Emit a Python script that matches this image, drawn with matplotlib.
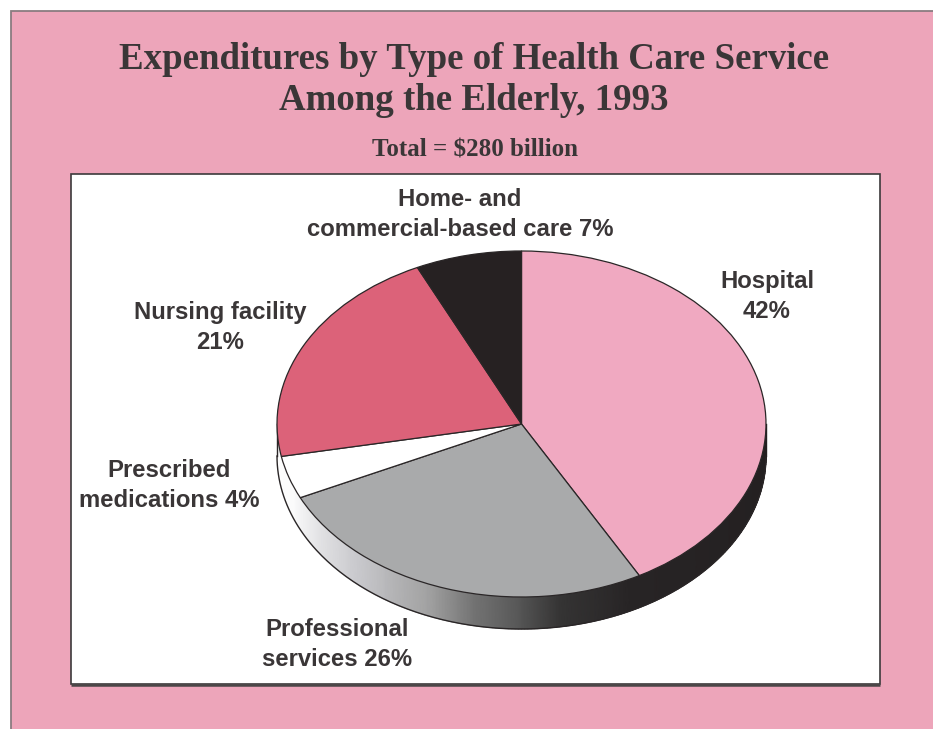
import numpy as np
import matplotlib
matplotlib.use("Agg")
import matplotlib.pyplot as plt
from matplotlib.colors import LinearSegmentedColormap
from matplotlib.patches import Rectangle

# Share of spending by service type, clockwise from twelve o'clock
services = ["Hospital", "Professional services", "Prescribed medications",
            "Nursing facility", "Home- and commercial-based care"]
shares = [42, 26, 4, 21, 7]
slice_colors = ["#f0a9c1", "#a9aaab", "#ffffff", "#dc6279", "#262122"]

title_lines = "Expenditures by Type of Health Care Service\nAmong the Elderly, 1993"
subtitle = "Total = $280 billion"
INK = "#3a3637"
PINK = "#eda5ba"

W, H = 933, 729
fig = plt.figure(figsize=(W / 100, H / 100), dpi=100, facecolor="white")

# Page layer in pixel units
page = fig.add_axes([0, 0, 1, 1], zorder=0)
page.set_xlim(0, W)
page.set_ylim(H, 0)
page.axis("off")
page.add_patch(Rectangle((10.5, 10.5), W + 20, H + 20, fc=PINK, ec="#8a7c80", lw=1.3))
page.add_patch(Rectangle((71, 174), 809, 510, fc="white", ec="#3c3a3b", lw=1.2))
page.plot([71, 880], [684.5, 684.5], color="#4a4647", lw=1.8, solid_capstyle="butt")

page.text(474, 80, title_lines, ha="center", va="center", ma="center",
          family="Liberation Serif", weight="bold", fontsize=26.6,
          color=INK, linespacing=1.2)
page.text(474.5, 150, subtitle, ha="center", va="center",
          family="Liberation Serif", weight="bold", fontsize=18, color=INK)

# Slice labels
label_style = dict(ha="center", va="center", ma="center", family="Liberation Sans",
                   weight="bold", fontsize=17.2, color=INK, linespacing=1.36)
page.text(767, 296.5, f"{services[0]}\n{shares[0]}%", **label_style)
page.text(337, 644.5, f"Professional\nservices {shares[1]}%", **label_style)
page.text(169, 485.5, f"Prescribed\nmedications {shares[2]}%", **label_style)
page.text(220, 327.5, f"{services[3]}\n{shares[3]}%", **label_style)
page.text(460, 214.5, f"Home- and\ncommercial-based care {shares[4]}%", **label_style)

# Pie layer: the unit circle is stretched into the tilted ellipse
cx, cy, rx, ry = 521.5, 424, 244.5, 173
pie_ax = fig.add_axes([(cx - rx) / W, 1 - (cy + ry) / H, 2 * rx / W, 2 * ry / H], zorder=1)
pie_ax.patch.set_alpha(0)
wedges, _ = pie_ax.pie(shares, colors=slice_colors, startangle=90, counterclock=False,
                       radius=1,
                       wedgeprops=dict(edgecolor="#2a2627", linewidth=0.9, zorder=3))
pie_ax.set_aspect("auto")
pie_ax.set_xlim(-1, 1)
pie_ax.set_ylim(-1, 1)

# Rim of the disc, shaded from white on the left to black on the right
depth = 32 / ry
rim_shade = LinearSegmentedColormap.from_list(
    "rim", [(0.0, "#ffffff"), (0.12, "#fbfbfb"), (0.27, "#c8c8cc"), (0.38, "#a0a0a0"),
            (0.43, "#787878"), (0.50, "#555555"), (0.55, "#353434"), (0.65, "#272425"),
            (1.0, "#231f20")])
theta = np.radians(np.linspace(180, 360, 241))
rim_x = np.vstack([np.cos(theta), np.cos(theta)])
rim_y = np.vstack([np.sin(theta), np.sin(theta) - depth])
rim_c = np.vstack([np.linspace(0, 1, 241)] * 2)
pie_ax.pcolormesh(rim_x, rim_y, rim_c, cmap=rim_shade, shading="gouraud",
                  zorder=1, clip_on=False)
pie_ax.plot(np.cos(theta), np.sin(theta) - depth, color="#2a2627", lw=1.0,
            zorder=2, clip_on=False)
pie_ax.plot([-1, -1], [0, -depth], color="#2a2627", lw=1.0, zorder=2, clip_on=False)
pie_ax.plot([1, 1], [0, -depth], color="#231f20", lw=1.0, zorder=2, clip_on=False)

fig.savefig("out.png", dpi=100)
